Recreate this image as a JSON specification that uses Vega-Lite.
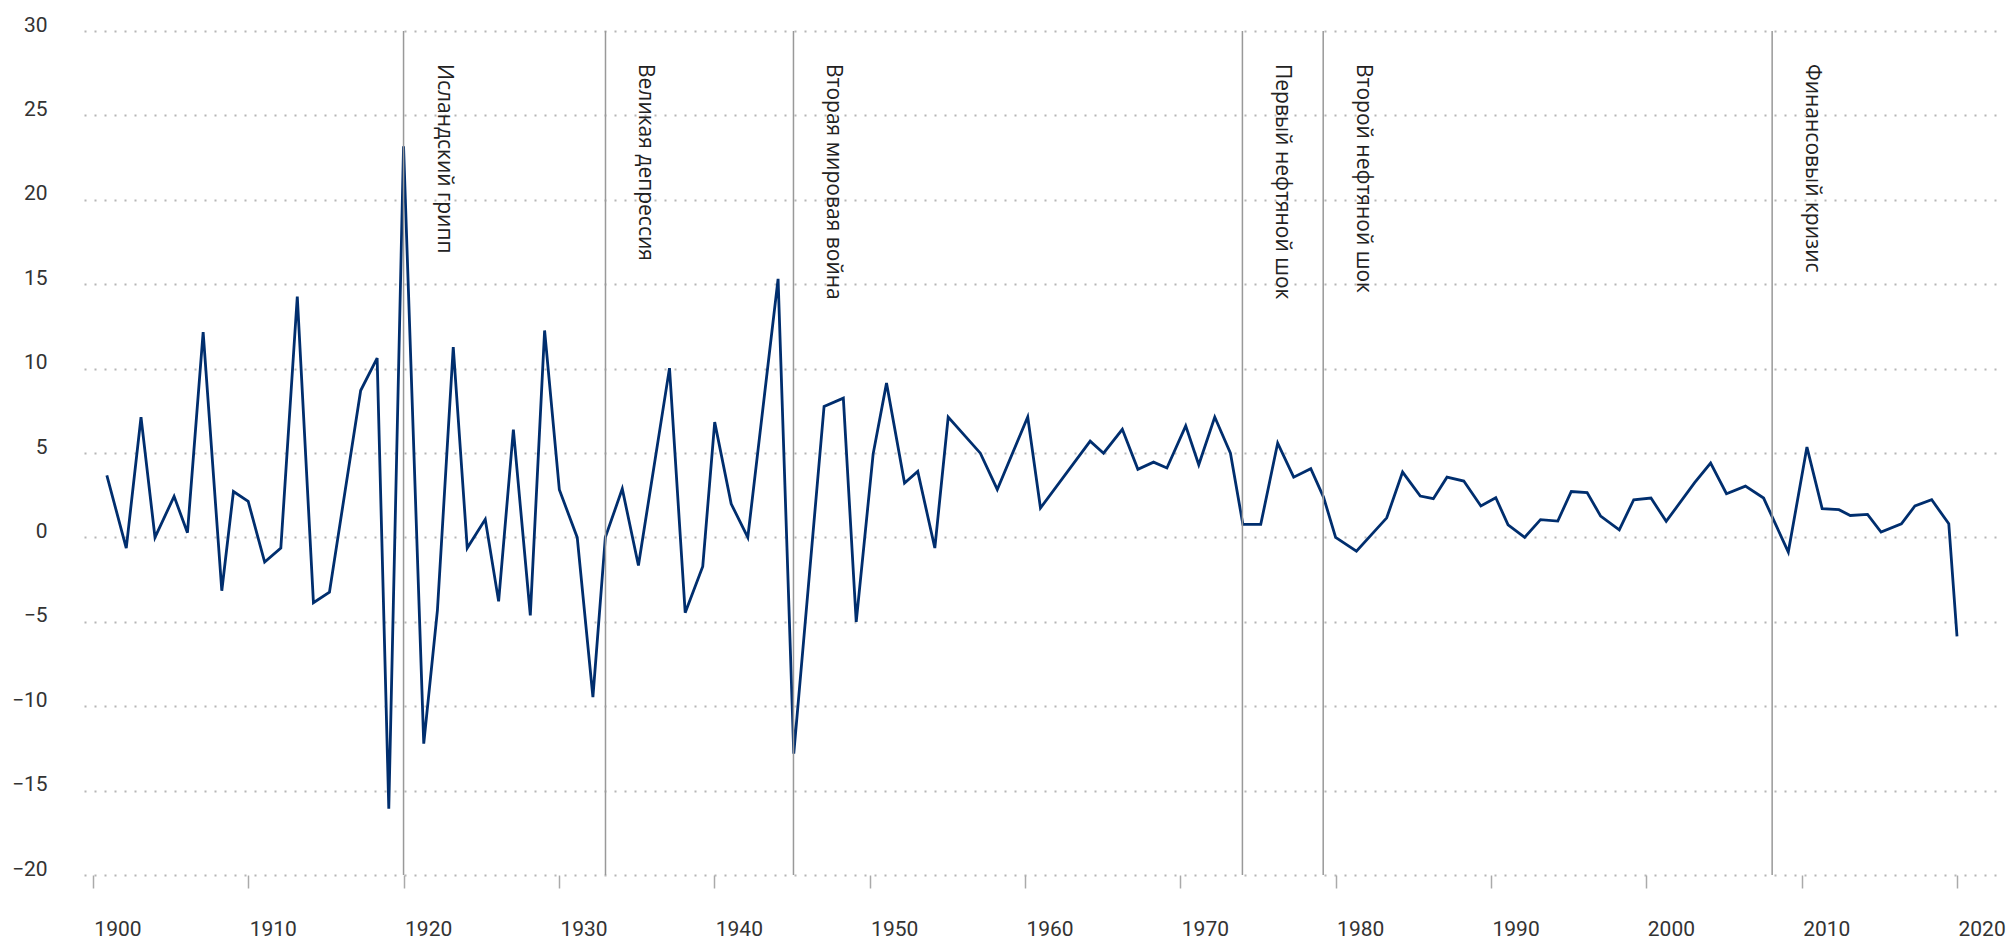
{
  "$schema": "https://vega.github.io/schema/vega-lite/v6.json",
  "autosize": "none",
  "width": 1912,
  "height": 844,
  "padding": {"left": 84, "top": 31, "right": 13, "bottom": 65},
  "background": "white",
  "config": {
    "view": {"stroke": null},
    "axis": {"labelFont": "Roboto", "labelColor": "#333333", "title": null}
  },
  "datasets": {
    "series": [
      {"year": 1900.9, "value": 3.67}, {"year": 1902.15, "value": -0.63}, {"year": 1903.1, "value": 7.13},
      {"year": 1904.0, "value": 0.0}, {"year": 1905.23, "value": 2.43}, {"year": 1906.09, "value": 0.28},
      {"year": 1907.1, "value": 12.16}, {"year": 1908.3, "value": -3.16}, {"year": 1909.05, "value": 2.72},
      {"year": 1910.0, "value": 2.13}, {"year": 1911.06, "value": -1.46}, {"year": 1912.1, "value": -0.63},
      {"year": 1913.16, "value": 14.27}, {"year": 1914.2, "value": -3.87}, {"year": 1915.23, "value": -3.24},
      {"year": 1917.24, "value": 8.7}, {"year": 1918.3, "value": 10.62}, {"year": 1919.05, "value": -16.07},
      {"year": 1920.0, "value": 23.17}, {"year": 1921.3, "value": -12.22}, {"year": 1922.18, "value": -4.32},
      {"year": 1923.2, "value": 11.27}, {"year": 1924.1, "value": -0.63}, {"year": 1925.26, "value": 1.07},
      {"year": 1926.12, "value": -3.79}, {"year": 1927.07, "value": 6.38}, {"year": 1928.16, "value": -4.62},
      {"year": 1929.08, "value": 12.26}, {"year": 1930.03, "value": 2.82}, {"year": 1931.18, "value": 0.0},
      {"year": 1932.19, "value": -9.46}, {"year": 1932.99, "value": 0.0}, {"year": 1934.08, "value": 2.88},
      {"year": 1935.12, "value": -1.66}, {"year": 1937.12, "value": 10.03}, {"year": 1938.13, "value": -4.46},
      {"year": 1939.26, "value": -1.72}, {"year": 1940.03, "value": 6.83}, {"year": 1941.09, "value": 1.99},
      {"year": 1942.16, "value": 0.0}, {"year": 1944.11, "value": 15.32}, {"year": 1945.12, "value": -12.81},
      {"year": 1947.07, "value": 7.76}, {"year": 1948.31, "value": 8.25}, {"year": 1949.14, "value": -5.01},
      {"year": 1950.23, "value": 4.95}, {"year": 1951.09, "value": 9.14}, {"year": 1952.25, "value": 3.22},
      {"year": 1953.1, "value": 3.91}, {"year": 1954.2, "value": -0.63}, {"year": 1955.06, "value": 7.13},
      {"year": 1957.13, "value": 4.99}, {"year": 1958.22, "value": 2.84}, {"year": 1960.18, "value": 7.13},
      {"year": 1961.0, "value": 1.74}, {"year": 1964.2, "value": 5.7}, {"year": 1965.06, "value": 4.99},
      {"year": 1966.27, "value": 6.4}, {"year": 1967.27, "value": 4.03}, {"year": 1968.28, "value": 4.46},
      {"year": 1969.14, "value": 4.11}, {"year": 1970.35, "value": 6.61}, {"year": 1971.19, "value": 4.3},
      {"year": 1972.22, "value": 7.13}, {"year": 1973.23, "value": 4.99}, {"year": 1974.03, "value": 0.77},
      {"year": 1975.18, "value": 0.77}, {"year": 1976.27, "value": 5.59}, {"year": 1977.3, "value": 3.57},
      {"year": 1978.4, "value": 4.07}, {"year": 1979.22, "value": 2.39}, {"year": 1980.0, "value": 0.0},
      {"year": 1981.34, "value": -0.81}, {"year": 1983.29, "value": 1.16}, {"year": 1984.31, "value": 3.87},
      {"year": 1985.45, "value": 2.45}, {"year": 1986.29, "value": 2.29}, {"year": 1987.17, "value": 3.57},
      {"year": 1988.25, "value": 3.34}, {"year": 1989.35, "value": 1.86}, {"year": 1990.31, "value": 2.35},
      {"year": 1991.1, "value": 0.75}, {"year": 1992.17, "value": 0.0}, {"year": 1993.19, "value": 1.05},
      {"year": 1994.3, "value": 0.97}, {"year": 1995.17, "value": 2.72}, {"year": 1996.19, "value": 2.66},
      {"year": 1997.06, "value": 1.26}, {"year": 1998.26, "value": 0.45}, {"year": 1999.19, "value": 2.23},
      {"year": 2000.3, "value": 2.33}, {"year": 2001.28, "value": 0.95}, {"year": 2003.11, "value": 3.24},
      {"year": 2004.14, "value": 4.4}, {"year": 2005.16, "value": 2.59}, {"year": 2006.38, "value": 3.04},
      {"year": 2007.55, "value": 2.33}, {"year": 2009.14, "value": -0.87}, {"year": 2010.34, "value": 5.35},
      {"year": 2011.32, "value": 1.7}, {"year": 2012.4, "value": 1.64}, {"year": 2013.13, "value": 1.3},
      {"year": 2014.24, "value": 1.36}, {"year": 2015.11, "value": 0.32}, {"year": 2016.42, "value": 0.81},
      {"year": 2017.29, "value": 1.86}, {"year": 2018.37, "value": 2.23}, {"year": 2019.47, "value": 0.81},
      {"year": 2020.0, "value": -5.86}
    ],
    "events": [
      {"year": 1920.0, "label": "Исландский грипп"},
      {"year": 1933.0, "label": "Великая депрессия"},
      {"year": 1945.1, "label": "Вторая мировая война"},
      {"year": 1974.0, "label": "Первый нефтяной шок"},
      {"year": 1979.2, "label": "Второй нефтяной шок"},
      {"year": 2008.1, "label": "Финансовый кризис"}
    ]
  },
  "layer": [
    {
      "data": {"name": "series"},
      "mark": {"type": "line", "color": "#002e6e", "strokeWidth": 2.8, "strokeJoin": "miter", "clip": false},
      "encoding": {
        "x": {
          "field": "year", "type": "quantitative",
          "scale": {"domain": [1899.43, 2022.51], "nice": false, "zero": false},
          "axis": {
            "values": [1900, 1910, 1920, 1930, 1940, 1950, 1960, 1970, 1980, 1990, 2000, 2010, 2020],
            "format": "d", "grid": false, "domain": false, "ticks": true, "tickSize": 13,
            "tickColor": "#aaaaaa", "tickWidth": 1.5, "labelAlign": "left", "labelBaseline": "alphabetic",
            "labelPadding": 47, "labelFontSize": 21, "labelOffset": 1, "labelFlush": false, "labelOverlap": false
          }
        },
        "y": {
          "field": "value", "type": "quantitative",
          "scale": {"domain": [-20, 30], "nice": false, "zero": false},
          "axis": {
            "values": [-20, -15, -10, -5, 0, 5, 10, 15, 20, 25, 30],
            "grid": true, "gridDash": [2, 8], "gridColor": "#b5b5b5", "gridWidth": 2,
            "domain": false, "ticks": false, "labelPadding": 37, "labelBaseline": "alphabetic",
            "labelFontSize": 21, "labelFlush": false, "labelOverlap": false
          }
        }
      }
    },
    {
      "mark": {"type": "rule", "color": "#8a8a8a", "strokeWidth": 2},
      "encoding": {"y": {"datum": 0}}
    },
    {
      "data": {"name": "events"},
      "mark": {"type": "rule", "color": "#999999", "strokeWidth": 1.5},
      "encoding": {"x": {"field": "year", "type": "quantitative"}}
    },
    {
      "data": {"name": "events"},
      "mark": {"type": "text", "angle": 90, "align": "left", "baseline": "alphabetic", "dx": 33, "dy": -34, "font": "Open Sans", "fontSize": 21, "color": "#222222"},
      "encoding": {
        "x": {"field": "year", "type": "quantitative"},
        "y": {"value": 0},
        "text": {"field": "label"}
      }
    }
  ]
}
